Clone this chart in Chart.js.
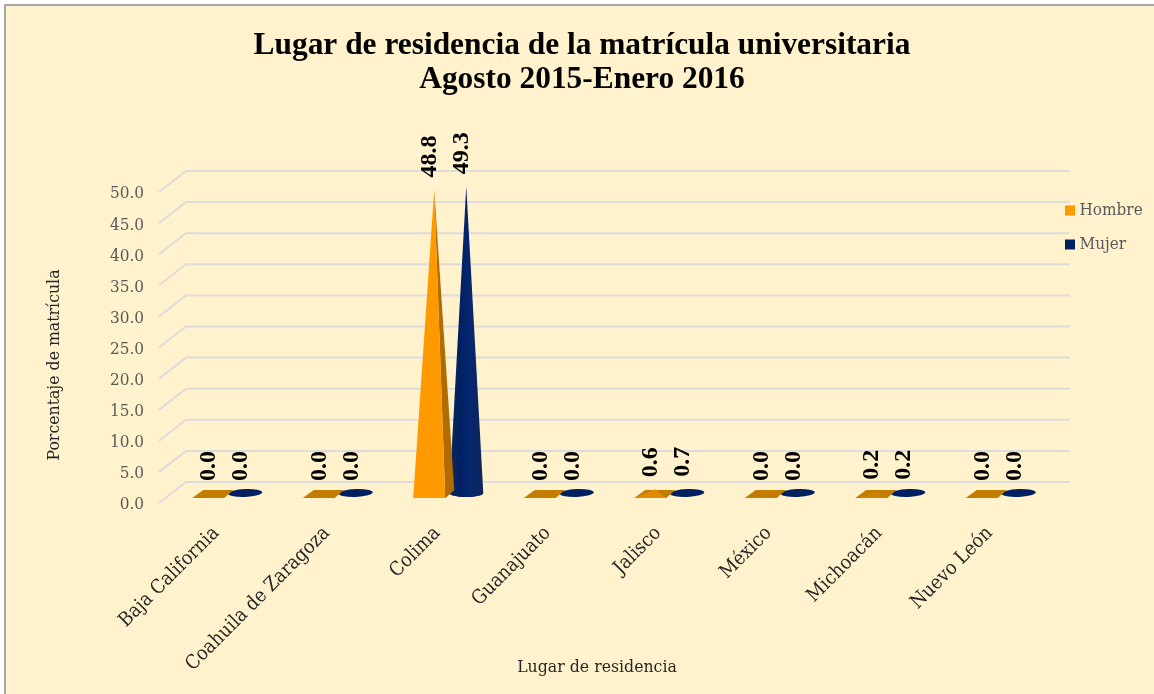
<!DOCTYPE html>
<html lang="es"><head><meta charset="utf-8">
<style>html,body{margin:0;padding:0;background:#fff}canvas{display:block}</style>
<script src="https://cdn.jsdelivr.net/npm/chart.js@4"></script></head>
<body><canvas id="c" width="1154" height="694"></canvas>
<script>
const categories=["Baja California","Coahuila de Zaragoza","Colima","Guanajuato","Jalisco","México","Michoacán","Nuevo León"];
const hombre=[0.0,0.0,48.8,0.0,0.6,0.0,0.2,0.0];
const mujer=[0.0,0.0,49.3,0.0,0.7,0.0,0.2,0.0];
const titleLines=["Lugar de residencia de la matrícula universitaria","Agosto 2015-Enero 2016"];
const xTitle="Lugar de residencia";
const yTitle="Porcentaje de matrícula";
const serif='"DejaVu Serif Condensed","DejaVu Serif",serif';
const DX=27,DY=21,BX=15,BY=10;

const scene={
  id:'scene',
  beforeDraw(chart){
    const c=chart.ctx;c.save();
    c.fillStyle='#fff';c.fillRect(0,0,1154,694);
    c.fillStyle='#fff2cc';c.fillRect(4,4,1150,690);
    c.fillStyle='#a6a6a6';c.fillRect(4,4,1150,2);c.fillRect(4,4,2,690);
    c.restore();
  },
  afterLayout(chart){
    const l=chart.legend;
    const w=l.width,h=l.height;
    l.left=1052;l.right=l.left+w;l.top=185;l.bottom=l.top+h;
    chart.scales.y.left=60;
  },
  beforeDatasetsDraw(chart){
    const c=chart.ctx,y=chart.scales.y,a=chart.chartArea;
    c.save();c.strokeStyle='#dcdcdc';c.lineWidth=2;
    y.ticks.forEach(t=>{
      const p=y.getPixelForValue(t.value);
      c.beginPath();c.moveTo(a.left,p);c.lineTo(a.left+DX,p-DY);c.lineTo(a.right+DX,p-DY);c.stroke();
    });
    c.restore();
  },
  beforeDatasetDraw(chart,args){
    const c=chart.ctx,y=chart.scales.y,ds=chart.data.datasets[args.index];
    const base=y.getPixelForValue(0)-BY;
    c.save();
    args.meta.data.forEach((el,i)=>{
      const v=ds.data[i],cx=el.x+BX,top=y.getPixelForValue(v)-BY;
      if(args.index===0){
        c.fillStyle='#c27c00';
        c.beginPath();c.moveTo(cx-21,base+5);c.lineTo(cx+11,base+5);c.lineTo(cx+20,base-3);c.lineTo(cx-10,base-3);c.closePath();c.fill();
        if(v>0){
          const tall=v>5;
          if(tall){
            c.fillStyle='#b06c00';
            c.beginPath();c.moveTo(cx+11,base+5);c.lineTo(cx+20,base-3);c.lineTo(cx,top);c.closePath();c.fill();
          }
          c.fillStyle=tall?ds.backgroundColor:(v>0.4?'#e08c08':'#cc8200');
          c.beginPath();c.moveTo(cx-21,base+5);c.lineTo(cx+11,base+5);c.lineTo(cx,top);c.closePath();c.fill();
        }
      }else{
        c.fillStyle=ds.backgroundColor;
        c.beginPath();c.ellipse(cx,base,17,4,v>1?0:-0.04,0,Math.PI*2);c.fill();
        if(v>1){
          const g=c.createLinearGradient(cx-17,0,cx+17,0);
          g.addColorStop(0,'#10285c');g.addColorStop(.3,'#00205f');g.addColorStop(.55,'#052570');g.addColorStop(1,'#0e2758');
          c.fillStyle=g;
          c.beginPath();c.moveTo(cx-17,base);c.lineTo(cx,top);c.lineTo(cx+17,base);c.closePath();c.fill();
          c.beginPath();c.ellipse(cx,base,17,4,0,0,Math.PI);c.fill();
        }
      }
      c.save();
      c.translate(cx-4,top-12);c.rotate(-Math.PI/2);
      c.font='bold 24px "Liberation Serif",serif';c.fillStyle='#000';c.textAlign='left';c.textBaseline='middle';
      c.fillText(v.toFixed(1),0,0);
      c.restore();
    });
    c.restore();
    return false;
  },
  afterDraw(chart){
    const c=chart.ctx;c.save();
    c.font='17.5px '+serif;c.fillStyle='#262626';c.textAlign='center';c.textBaseline='middle';
    c.fillText(xTitle,597,667);
    c.translate(54,365);c.rotate(-Math.PI/2);c.fillText(yTitle,0,0);
    c.restore();
  }
};

new Chart(document.getElementById('c'),{
  type:'bar',
  data:{labels:categories,datasets:[
    {label:'Hombre',data:hombre,backgroundColor:'#ff9900',borderColor:'#ff9900',borderWidth:8},
    {label:'Mujer',data:mujer,backgroundColor:'#002060',borderColor:'#002060',borderWidth:8}
  ]},
  plugins:[scene],
  options:{
    responsive:false,animation:false,devicePixelRatio:1,
    layout:{padding:{left:121,right:111,top:0,bottom:0}},
    datasets:{bar:{categoryPercentage:0.58,barPercentage:1}},
    plugins:{
      tooltip:{enabled:false},
      title:{display:true,text:titleLines,color:'#000',align:'center',
        font:{family:'"Liberation Serif",serif',size:31.4,weight:'bold',lineHeight:34/31.4},
        padding:{top:29,bottom:95}},
      legend:{display:true,position:'chartArea',align:'start',
        labels:{boxWidth:2,boxHeight:2,padding:17,color:'#595959',font:{family:serif,size:17}}}
    },
    scales:{
      x:{grid:{display:false},border:{display:false},
        afterFit(s){s.height=191;},
        ticks:{autoSkip:false,minRotation:45,maxRotation:45,color:'#262626',padding:11,labelOffset:2,font:{family:serif,size:19.5}}},
      y:{min:0,max:50,grid:{display:false},border:{display:false},
        afterFit(s){s.width=38;},
        ticks:{stepSize:5,color:'#595959',padding:7,labelOffset:2,font:{family:serif,size:17},callback:v=>v.toFixed(1)}}
    }
  }
});
</script></body></html>
